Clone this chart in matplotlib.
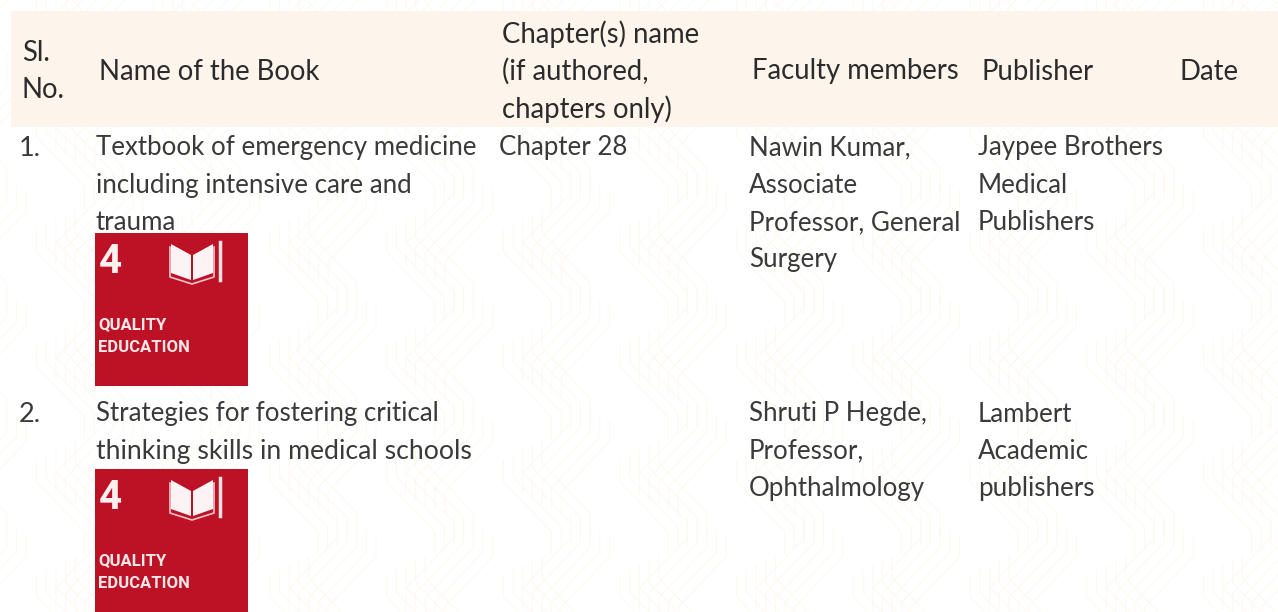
import matplotlib
matplotlib.use("Agg")
import matplotlib.pyplot as plt
from matplotlib.patches import Rectangle, Polygon

W, H = 1278, 612
FONT = "Lato"
BODY = "#3a3a3a"
HEAD = "#2b2b2b"

headers = ["Sl.\nNo.", "Name of the Book", "Chapter(s) name\n(if authored,\nchapters only)",
           "Faculty members", "Publisher", "Date"]
header_x = [22, 99, 502, 752, 981, 1180]

serials = ["1.", "2."]
books = [["Textbook of emergency medicine", "including intensive care and", "trauma"],
         ["Strategies for fostering critical", "thinking skills in medical schools"]]
chapters = [["Chapter 28"], []]
faculty = [["Nawin Kumar,", "Associate", "Professor, General", "Surgery"],
           ["Shruti P Hegde,", "Professor,", "Ophthalmology"]]
publishers = [["Jaypee Brothers", "Medical", "Publishers"],
              ["Lambert", "Academic", "publishers"]]
row_top = [148, 414]
badge_top = [233, 469]
col_x = [19, 96, 499, 749, 978]
line_h = 37.3

fig = plt.figure(figsize=(W / 100, H / 100), dpi=100, facecolor="white")
ax = fig.add_axes([0, 0, 1, 1])
ax.set_xlim(0, W)
ax.set_ylim(H, 0)
ax.axis("off")

# faint woven background pattern
PX, PY = 116.7, 115.0
PAT = "#fdf8ec"
for i in range(-7, 8):
    for j in range(-4, 5):
        ox, oy = i * PX, j * PY
        for k in range(5):
            xt, yt = 570.7 + 9.7 * k + ox, 308 + 4.7 * k + oy
            ax.plot([xt, xt, xt - 48, xt - 48], [yt - 22, yt, yt + 50, yt + 72],
                    color=PAT, lw=0.6, zorder=0)
            xt, yt = 503.3 + 9.7 * k + ox, 366.7 - 4.7 * k + oy
            ax.plot([xt, xt, xt + 48, xt + 48], [yt - 22, yt, yt + 50, yt + 72],
                    color=PAT, lw=0.6, zorder=0)

ax.add_patch(Rectangle((11, 11), W - 11, 116, fc="#fdf5ec", ec="none", zorder=1))


def t(x, y, s, size=18.6, color=BODY, **kw):
    ax.text(x, y, s, fontsize=size, color=color, family=FONT,
            va="center", ha="left", zorder=2, **kw)


for x, h in zip(header_x, headers):
    lines = h.split("\n")
    for i, line in enumerate(lines):
        y = 71.5 + (i - (len(lines) - 1) / 2) * (37.5 if len(lines) == 3 else 37)
        t(x, y, line, color=HEAD, size=19.8)


def column(x, top, lines):
    for i, line in enumerate(lines):
        size = 19.2 if line.startswith("thinking") else 18.6
        t(x, top + i * line_h, line, size=size)


for r in range(2):
    t(col_x[0], row_top[r], serials[r], size=19.5)
    column(col_x[1], row_top[r], books[r])
    column(col_x[2], row_top[r], chapters[r])
    column(col_x[3], row_top[r], faculty[r])
    column(col_x[4], row_top[r], publishers[r])


def badge(x, y, s=153):
    ax.add_patch(Rectangle((x, y), s, s, fc="#bd1226", ec="none", zorder=3))
    ax.text(x + 15, y + 29, "4", color="#fdf0f1", fontsize=29, weight="bold", family="Roboto",
            ha="center", va="center", zorder=4)
    ax.text(x + 3, y + 92, "QUALITY", color="#fbe6e8", fontsize=12, weight="bold", family="Roboto",
            ha="left", va="center", zorder=4)
    ax.text(x + 3, y + 115, "EDUCATION", color="#fbe6e8", fontsize=12, weight="bold", family="Roboto",
            ha="left", va="center", zorder=4)
    ax.add_patch(Polygon([(x + 76, y + 11), (x + 96, y + 22), (x + 96, y + 47), (x + 76, y + 40)],
                         fc="#fdf3f4", ec="none", zorder=4))
    ax.add_patch(Polygon([(x + 118, y + 11), (x + 98, y + 22), (x + 98, y + 47), (x + 118, y + 40)],
                         fc="#fdf3f4", ec="none", zorder=4))
    ax.plot([x + 75, x + 75, x + 97, x + 119, x + 119], [y + 14, y + 44, y + 51, y + 44, y + 14],
            color="#f3c4c9", lw=1.2, zorder=4)
    ax.plot([x + 125, x + 125], [y + 9, y + 47], color="#f9e2e4", lw=2.5, zorder=4)


for y in badge_top:
    badge(95, y)

fig.savefig("out.png", dpi=100)
